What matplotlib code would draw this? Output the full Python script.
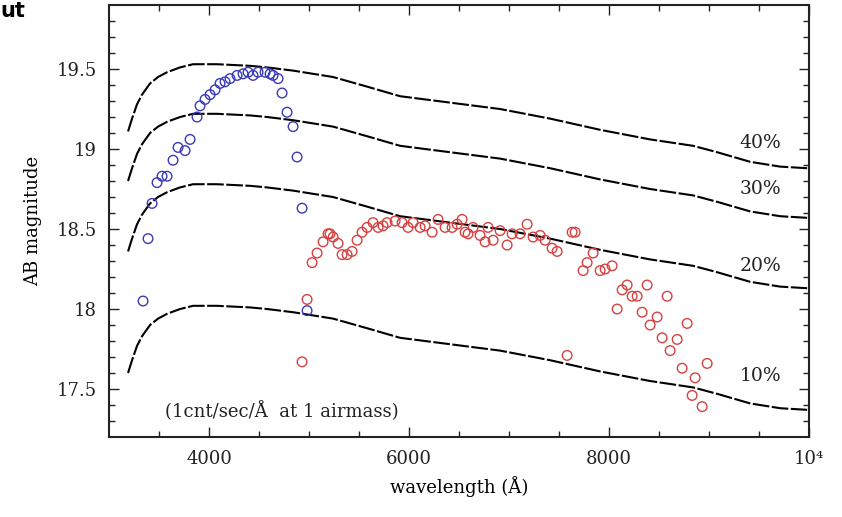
import matplotlib.pyplot as plt
import numpy as np

# wavelength grid (Angstrom) on which the limiting-magnitude curves were read
wave = [3190, 3230, 3280, 3330, 3410, 3490, 3580, 3710, 3840, 4080, 4410, 4580, 4840,
        5240, 5580, 5910, 6410, 6910, 7410, 7910, 8410, 8840, 9080, 9410, 9710, 9980]

mag_40 = [19.11, 19.19, 19.28, 19.34, 19.41, 19.45, 19.48, 19.51, 19.53, 19.53, 19.52, 19.51, 19.49,
          19.45, 19.39, 19.33, 19.29, 19.25, 19.19, 19.12, 19.06, 19.02, 18.98, 18.92, 18.89, 18.88]
mag_30 = [18.80, 18.88, 18.97, 19.03, 19.10, 19.14, 19.17, 19.20, 19.22, 19.22, 19.21, 19.20, 19.18,
          19.14, 19.08, 19.02, 18.98, 18.94, 18.88, 18.81, 18.75, 18.71, 18.67, 18.61, 18.58, 18.57]
mag_20 = [18.36, 18.44, 18.53, 18.59, 18.66, 18.70, 18.73, 18.76, 18.78, 18.78, 18.77, 18.76, 18.74,
          18.70, 18.64, 18.58, 18.54, 18.50, 18.44, 18.37, 18.31, 18.27, 18.23, 18.17, 18.14, 18.13]
mag_10 = [17.60, 17.68, 17.77, 17.83, 17.90, 17.94, 17.97, 18.00, 18.02, 18.02, 18.01, 18.00, 17.98,
          17.94, 17.88, 17.82, 17.78, 17.74, 17.68, 17.61, 17.55, 17.51, 17.47, 17.41, 17.38, 17.37]

curve_labels = ['40%', '30%', '20%', '10%']
label_mag = [19.04, 18.75, 18.27, 17.58]

# blue arm points
blue_w = [3340, 3390, 3430, 3480, 3530, 3580, 3640, 3690, 3760, 3810, 3880, 3910,
          3960, 4010, 4060, 4110, 4160, 4210, 4280, 4340, 4390, 4440, 4490, 4560,
          4610, 4640, 4690, 4730, 4780, 4840, 4880, 4930, 4980]
blue_m = [18.05, 18.44, 18.66, 18.79, 18.83, 18.83, 18.93, 19.01, 18.99, 19.06, 19.20, 19.27,
          19.31, 19.34, 19.37, 19.41, 19.42, 19.44, 19.46, 19.47, 19.48, 19.46, 19.48, 19.48,
          19.47, 19.46, 19.44, 19.35, 19.23, 19.14, 18.95, 18.63, 17.99]

# red arm points
red_w = [4930, 4980, 5030, 5080, 5140, 5190, 5210, 5240, 5290, 5330, 5380, 5430,
         5480, 5530, 5580, 5640, 5690, 5740, 5780, 5860, 5930, 5990, 6040, 6110,
         6160, 6230, 6290, 6360, 6430, 6480, 6530, 6560, 6590, 6640, 6710, 6760,
         6790, 6840, 6910, 6980, 7030, 7110, 7180, 7240, 7310, 7360, 7430, 7480,
         7580, 7630, 7660, 7740, 7780, 7840, 7910, 7960, 8030, 8080, 8130, 8180,
         8230, 8280, 8330, 8380, 8410, 8480, 8530, 8580, 8610, 8680, 8730, 8780,
         8830, 8860, 8930, 8980]
red_m = [17.67, 18.06, 18.29, 18.35, 18.42, 18.47, 18.47, 18.45, 18.41, 18.34, 18.34, 18.36,
         18.43, 18.48, 18.51, 18.54, 18.51, 18.52, 18.54, 18.55, 18.54, 18.51, 18.54, 18.51,
         18.52, 18.48, 18.56, 18.51, 18.51, 18.53, 18.56, 18.48, 18.47, 18.51, 18.46, 18.42,
         18.51, 18.43, 18.49, 18.40, 18.47, 18.47, 18.53, 18.45, 18.46, 18.43, 18.38, 18.36,
         17.71, 18.48, 18.48, 18.24, 18.29, 18.35, 18.24, 18.25, 18.27, 18.00, 18.12, 18.15,
         18.08, 18.08, 17.98, 18.15, 17.90, 17.95, 17.82, 18.08, 17.74, 17.81, 17.63, 17.91,
         17.46, 17.57, 17.39, 17.66]

plt.rcParams['font.family'] = ['DejaVu Serif']

fig = plt.figure(figsize=(8.42, 5.17), dpi=100)
ax = fig.add_axes([0.1295, 0.1547, 0.8315, 0.8356])

for m in [mag_40, mag_30, mag_20, mag_10]:
    line, = ax.plot(wave, m, color='black', lw=1.5)
    line.set_dashes((8, 1.2))

ax.scatter(blue_w, blue_m, s=48, facecolors='none', edgecolors='#3a3ab8', linewidths=1.0, zorder=3)
ax.scatter(red_w, red_m, s=48, facecolors='none', edgecolors='#d84040', linewidths=1.0, zorder=3)

for lab, y in zip(curve_labels, label_mag):
    ax.text(9720, y, lab, ha='right', va='center', fontsize=13.5, color='#222222')

ax.text(3560, 17.36, '(1cnt/sec/Å  at 1 airmass)', ha='left', va='center',
        fontsize=13, color='#222222')

ax.set_xlim(3000, 10000)
ax.set_ylim(17.2, 19.9)
ax.set_xticks([4000, 6000, 8000, 10000])
ax.set_xticklabels(['4000', '6000', '8000', '10⁴'])
ax.set_xticks(np.arange(3500, 10000, 500), minor=True)
ax.set_yticks([17.5, 18, 18.5, 19, 19.5])
ax.set_yticklabels(['17.5', '18', '18.5', '19', '19.5'])
ax.set_yticks(np.arange(17.3, 19.9, 0.1), minor=True)

ax.tick_params(which='both', direction='in', top=True, right=True, labelsize=13,
               colors='#222222', width=1.0)
ax.tick_params(which='major', length=7, pad=9)
ax.tick_params(which='minor', length=4)
for sp in ax.spines.values():
    sp.set_linewidth(1.5)
    sp.set_color('#222222')

ax.set_xlabel('wavelength (Å)', fontsize=13, labelpad=6)
ax.set_ylabel('AB magnitude', fontsize=13, labelpad=10)

fig.text(0.001, 0.999, 'ut', fontsize=15, fontweight='bold',
         family='DejaVu Sans', ha='left', va='top')

fig.savefig('out.png', dpi=100)
